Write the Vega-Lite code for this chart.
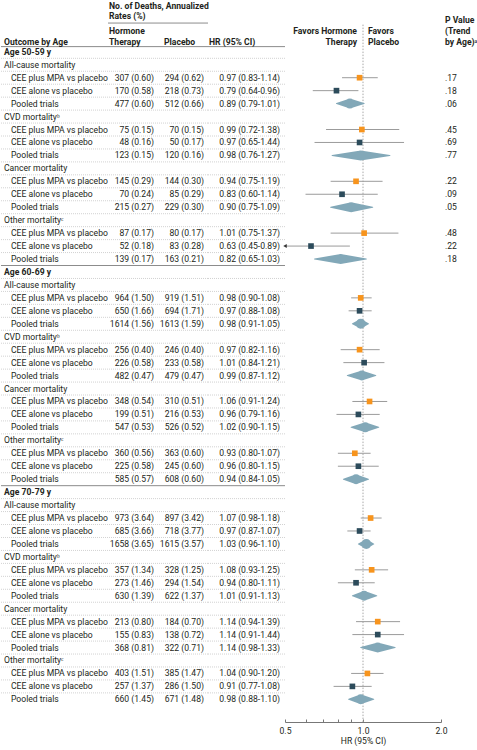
{
"$schema": "https://vega.github.io/schema/vega-lite/v6.json",
"padding": 0,
"spacing": 0,
"bounds": "flush",
"config": {"font": "Roboto", "view": {"stroke": null}, "text": {"fontSize": 8.6, "color": "#231f20"}},
"datasets": {"rows": [
{"row":0,"label":"Age 50-59 y","level":"age"},
{"row":1,"label":"All-cause mortality","level":"cat"},
{"row":2,"label":"CEE plus MPA vs placebo","level":"sub","type":"MPA","ht":"307 (0.60)","pl":"294 (0.62)","hrci":"0.97 (0.83-1.14)","hr":0.97,"lo":0.83,"hi":1.14,"p":".17"},
{"row":3,"label":"CEE alone vs placebo","level":"sub","type":"alone","ht":"170 (0.58)","pl":"218 (0.73)","hrci":"0.79 (0.64-0.96)","hr":0.79,"lo":0.64,"hi":0.96,"p":".18"},
{"row":4,"label":"Pooled trials","level":"sub","type":"pooled","ht":"477 (0.60)","pl":"512 (0.66)","hrci":"0.89 (0.79-1.01)","hr":0.89,"lo":0.79,"hi":1.01,"p":".06"},
{"row":5,"label":"CVD mortalityᵇ","level":"cat"},
{"row":6,"label":"CEE plus MPA vs placebo","level":"sub","type":"MPA","ht":"75 (0.15)","pl":"70 (0.15)","hrci":"0.99 (0.72-1.38)","hr":0.99,"lo":0.72,"hi":1.38,"p":".45"},
{"row":7,"label":"CEE alone vs placebo","level":"sub","type":"alone","ht":"48 (0.16)","pl":"50 (0.17)","hrci":"0.97 (0.65-1.44)","hr":0.97,"lo":0.65,"hi":1.44,"p":".69"},
{"row":8,"label":"Pooled trials","level":"sub","type":"pooled","ht":"123 (0.15)","pl":"120 (0.16)","hrci":"0.98 (0.76-1.27)","hr":0.98,"lo":0.76,"hi":1.27,"p":".77"},
{"row":9,"label":"Cancer mortality","level":"cat"},
{"row":10,"label":"CEE plus MPA vs placebo","level":"sub","type":"MPA","ht":"145 (0.29)","pl":"144 (0.30)","hrci":"0.94 (0.75-1.19)","hr":0.94,"lo":0.75,"hi":1.19,"p":".22"},
{"row":11,"label":"CEE alone vs placebo","level":"sub","type":"alone","ht":"70 (0.24)","pl":"85 (0.29)","hrci":"0.83 (0.60-1.14)","hr":0.83,"lo":0.60,"hi":1.14,"p":".09"},
{"row":12,"label":"Pooled trials","level":"sub","type":"pooled","ht":"215 (0.27)","pl":"229 (0.30)","hrci":"0.90 (0.75-1.09)","hr":0.90,"lo":0.75,"hi":1.09,"p":".05"},
{"row":13,"label":"Other mortalityᶜ","level":"cat"},
{"row":14,"label":"CEE plus MPA vs placebo","level":"sub","type":"MPA","ht":"87 (0.17)","pl":"80 (0.17)","hrci":"1.01 (0.75-1.37)","hr":1.01,"lo":0.75,"hi":1.37,"p":".48"},
{"row":15,"label":"CEE alone vs placebo","level":"sub","type":"alone","ht":"52 (0.18)","pl":"83 (0.28)","hrci":"0.63 (0.45-0.89)","hr":0.63,"lo":0.45,"hi":0.89,"p":".22"},
{"row":16,"label":"Pooled trials","level":"sub","type":"pooled","ht":"139 (0.17)","pl":"163 (0.21)","hrci":"0.82 (0.65-1.03)","hr":0.82,"lo":0.65,"hi":1.03,"p":".18"},
{"row":17,"label":"Age 60-69 y","level":"age"},
{"row":18,"label":"All-cause mortality","level":"cat"},
{"row":19,"label":"CEE plus MPA vs placebo","level":"sub","type":"MPA","ht":"964 (1.50)","pl":"919 (1.51)","hrci":"0.98 (0.90-1.08)","hr":0.98,"lo":0.90,"hi":1.08},
{"row":20,"label":"CEE alone vs placebo","level":"sub","type":"alone","ht":"650 (1.66)","pl":"694 (1.71)","hrci":"0.97 (0.88-1.08)","hr":0.97,"lo":0.88,"hi":1.08},
{"row":21,"label":"Pooled trials","level":"sub","type":"pooled","ht":"1614 (1.56)","pl":"1613 (1.59)","hrci":"0.98 (0.91-1.05)","hr":0.98,"lo":0.91,"hi":1.05},
{"row":22,"label":"CVD mortalityᵇ","level":"cat"},
{"row":23,"label":"CEE plus MPA vs placebo","level":"sub","type":"MPA","ht":"256 (0.40)","pl":"246 (0.40)","hrci":"0.97 (0.82-1.16)","hr":0.97,"lo":0.82,"hi":1.16},
{"row":24,"label":"CEE alone vs placebo","level":"sub","type":"alone","ht":"226 (0.58)","pl":"233 (0.58)","hrci":"1.01 (0.84-1.21)","hr":1.01,"lo":0.84,"hi":1.21},
{"row":25,"label":"Pooled trials","level":"sub","type":"pooled","ht":"482 (0.47)","pl":"479 (0.47)","hrci":"0.99 (0.87-1.12)","hr":0.99,"lo":0.87,"hi":1.12},
{"row":26,"label":"Cancer mortality","level":"cat"},
{"row":27,"label":"CEE plus MPA vs placebo","level":"sub","type":"MPA","ht":"348 (0.54)","pl":"310 (0.51)","hrci":"1.06 (0.91-1.24)","hr":1.06,"lo":0.91,"hi":1.24},
{"row":28,"label":"CEE alone vs placebo","level":"sub","type":"alone","ht":"199 (0.51)","pl":"216 (0.53)","hrci":"0.96 (0.79-1.16)","hr":0.96,"lo":0.79,"hi":1.16},
{"row":29,"label":"Pooled trials","level":"sub","type":"pooled","ht":"547 (0.53)","pl":"526 (0.52)","hrci":"1.02 (0.90-1.15)","hr":1.02,"lo":0.90,"hi":1.15},
{"row":30,"label":"Other mortalityᶜ","level":"cat"},
{"row":31,"label":"CEE plus MPA vs placebo","level":"sub","type":"MPA","ht":"360 (0.56)","pl":"363 (0.60)","hrci":"0.93 (0.80-1.07)","hr":0.93,"lo":0.80,"hi":1.07},
{"row":32,"label":"CEE alone vs placebo","level":"sub","type":"alone","ht":"225 (0.58)","pl":"245 (0.60)","hrci":"0.96 (0.80-1.15)","hr":0.96,"lo":0.80,"hi":1.15},
{"row":33,"label":"Pooled trials","level":"sub","type":"pooled","ht":"585 (0.57)","pl":"608 (0.60)","hrci":"0.94 (0.84-1.05)","hr":0.94,"lo":0.84,"hi":1.05},
{"row":34,"label":"Age 70-79 y","level":"age"},
{"row":35,"label":"All-cause mortality","level":"cat"},
{"row":36,"label":"CEE plus MPA vs placebo","level":"sub","type":"MPA","ht":"973 (3.64)","pl":"897 (3.42)","hrci":"1.07 (0.98-1.18)","hr":1.07,"lo":0.98,"hi":1.18},
{"row":37,"label":"CEE alone vs placebo","level":"sub","type":"alone","ht":"685 (3.66)","pl":"718 (3.77)","hrci":"0.97 (0.87-1.07)","hr":0.97,"lo":0.87,"hi":1.07},
{"row":38,"label":"Pooled trials","level":"sub","type":"pooled","ht":"1658 (3.65)","pl":"1615 (3.57)","hrci":"1.03 (0.96-1.10)","hr":1.03,"lo":0.96,"hi":1.10},
{"row":39,"label":"CVD mortalityᵇ","level":"cat"},
{"row":40,"label":"CEE plus MPA vs placebo","level":"sub","type":"MPA","ht":"357 (1.34)","pl":"328 (1.25)","hrci":"1.08 (0.93-1.25)","hr":1.08,"lo":0.93,"hi":1.25},
{"row":41,"label":"CEE alone vs placebo","level":"sub","type":"alone","ht":"273 (1.46)","pl":"294 (1.54)","hrci":"0.94 (0.80-1.11)","hr":0.94,"lo":0.80,"hi":1.11},
{"row":42,"label":"Pooled trials","level":"sub","type":"pooled","ht":"630 (1.39)","pl":"622 (1.37)","hrci":"1.01 (0.91-1.13)","hr":1.01,"lo":0.91,"hi":1.13},
{"row":43,"label":"Cancer mortality","level":"cat"},
{"row":44,"label":"CEE plus MPA vs placebo","level":"sub","type":"MPA","ht":"213 (0.80)","pl":"184 (0.70)","hrci":"1.14 (0.94-1.39)","hr":1.14,"lo":0.94,"hi":1.39},
{"row":45,"label":"CEE alone vs placebo","level":"sub","type":"alone","ht":"155 (0.83)","pl":"138 (0.72)","hrci":"1.14 (0.91-1.44)","hr":1.14,"lo":0.91,"hi":1.44},
{"row":46,"label":"Pooled trials","level":"sub","type":"pooled","ht":"368 (0.81)","pl":"322 (0.71)","hrci":"1.14 (0.98-1.33)","hr":1.14,"lo":0.98,"hi":1.33},
{"row":47,"label":"Other mortalityᶜ","level":"cat"},
{"row":48,"label":"CEE plus MPA vs placebo","level":"sub","type":"MPA","ht":"403 (1.51)","pl":"385 (1.47)","hrci":"1.04 (0.90-1.20)","hr":1.04,"lo":0.90,"hi":1.20},
{"row":49,"label":"CEE alone vs placebo","level":"sub","type":"alone","ht":"257 (1.37)","pl":"286 (1.50)","hrci":"0.91 (0.77-1.08)","hr":0.91,"lo":0.77,"hi":1.08},
{"row":50,"label":"Pooled trials","level":"sub","type":"pooled","ht":"660 (1.45)","pl":"671 (1.48)","hrci":"0.98 (0.88-1.10)","hr":0.98,"lo":0.88,"hi":1.10}
]},
"data": {"name": "rows"},
"hconcat": [
{
 "width": 107, "height": 722,
 "layer": [
  {"transform":[{"filter":"datum.row < 50 && datum.row != 16 && datum.row != 33"}],"mark":{"type":"rule","yOffset":6.5,"color":"#d2d2d2","strokeDash":[1,1]},"encoding":{"y":{"field":"row","type":"quantitative","scale":{"domain":[-4,51.75],"reverse":true,"nice":false,"zero":false},"axis":null}}},
  {"transform":[{"filter":"datum.row == 16 || datum.row == 33"}],"mark":{"type":"rule","yOffset":6.5,"color":"#8c8c8c"},"encoding":{"y":{"field":"row","type":"quantitative","scale":{"domain":[-4,51.75],"reverse":true,"nice":false,"zero":false},"axis":null}}},
  {"data":{"values":[{}]},"mark":{"type":"rule","color":"#8c8c8c"},"encoding":{"y":{"datum":-0.4,"type":"quantitative","scale":{"domain":[-4,51.75],"reverse":true,"nice":false,"zero":false},"axis":null}}},
  {"data":{"values":[{}]},"mark":{"type":"text","align":"left","baseline":"middle","dx":3,"fontWeight":"bold"},"encoding":{"x":{"datum":0,"type":"quantitative","scale":{"domain":[0,1],"nice":false,"zero":false},"axis":null},"y":{"datum":-0.75,"type":"quantitative","scale":{"domain":[-4,51.75],"reverse":true,"nice":false,"zero":false},"axis":null},"text":{"value":"Outcome by Age"}}},
  {"transform":[{"filter":"datum.level == 'age'"}],"mark":{"type":"text","align":"left","baseline":"middle","dx":3,"fontWeight":"bold"},"encoding":{"x":{"datum":0,"type":"quantitative","scale":{"domain":[0,1],"nice":false,"zero":false},"axis":null},"y":{"field":"row","type":"quantitative","scale":{"domain":[-4,51.75],"reverse":true,"nice":false,"zero":false},"axis":null},"text":{"field":"label"}}},
  {"transform":[{"filter":"datum.level == 'cat'"}],"mark":{"type":"text","align":"left","baseline":"middle","dx":3},"encoding":{"x":{"datum":0,"type":"quantitative","scale":{"domain":[0,1],"nice":false,"zero":false},"axis":null},"y":{"field":"row","type":"quantitative","scale":{"domain":[-4,51.75],"reverse":true,"nice":false,"zero":false},"axis":null},"text":{"field":"label"}}},
  {"transform":[{"filter":"datum.level == 'sub'"}],"mark":{"type":"text","align":"left","baseline":"middle","dx":10},"encoding":{"x":{"datum":0,"type":"quantitative","scale":{"domain":[0,1],"nice":false,"zero":false},"axis":null},"y":{"field":"row","type":"quantitative","scale":{"domain":[-4,51.75],"reverse":true,"nice":false,"zero":false},"axis":null},"text":{"field":"label"}}}
 ]
},
{
 "width": 50, "height": 722,
 "layer": [
  {"transform":[{"filter":"datum.row < 50 && datum.row != 16 && datum.row != 33"}],"mark":{"type":"rule","yOffset":6.5,"color":"#d2d2d2","strokeDash":[1,1]},"encoding":{"y":{"field":"row","type":"quantitative","scale":{"domain":[-4,51.75],"reverse":true,"nice":false,"zero":false},"axis":null}}},
  {"transform":[{"filter":"datum.row == 16 || datum.row == 33"}],"mark":{"type":"rule","yOffset":6.5,"color":"#8c8c8c"},"encoding":{"y":{"field":"row","type":"quantitative","scale":{"domain":[-4,51.75],"reverse":true,"nice":false,"zero":false},"axis":null}}},
  {"data":{"values":[{}]},"mark":{"type":"rule","color":"#8c8c8c"},"encoding":{"y":{"datum":-0.4,"type":"quantitative","scale":{"domain":[-4,51.75],"reverse":true,"nice":false,"zero":false},"axis":null}}},
  {"data":{"values":[{}]},"mark":{"type":"rule","color":"#8c8c8c"},"encoding":{"y":{"datum":-2.22,"type":"quantitative","scale":{"domain":[-4,51.75],"reverse":true,"nice":false,"zero":false},"axis":null}}},
  {"data":{"values":[{}]},"mark":{"type":"text","align":"left","baseline":"middle","dx":1,"fontWeight":"bold","lineHeight":10},"encoding":{"x":{"datum":0,"type":"quantitative","scale":{"domain":[0,1],"nice":false,"zero":false},"axis":null},"y":{"datum":-3.54,"type":"quantitative","scale":{"domain":[-4,51.75],"reverse":true,"nice":false,"zero":false},"axis":null},"text":{"value":["No. of Deaths, Annualized","Rates (%)"]}}},
  {"data":{"values":[{}]},"mark":{"type":"text","align":"left","baseline":"middle","dx":1,"fontWeight":"bold","lineHeight":11},"encoding":{"x":{"datum":0,"type":"quantitative","scale":{"domain":[0,1],"nice":false,"zero":false},"axis":null},"y":{"datum":-1.6,"type":"quantitative","scale":{"domain":[-4,51.75],"reverse":true,"nice":false,"zero":false},"axis":null},"text":{"value":["Hormone","Therapy"]}}},
  {"transform":[{"filter":"datum.level == 'sub'"}],"mark":{"type":"text","align":"right","baseline":"middle","dx":-4},"encoding":{"x":{"datum":1,"type":"quantitative","scale":{"domain":[0,1],"nice":false,"zero":false},"axis":null},"y":{"field":"row","type":"quantitative","scale":{"domain":[-4,51.75],"reverse":true,"nice":false,"zero":false},"axis":null},"text":{"field":"ht"}}}
 ]
},
{
 "width": 50, "height": 722,
 "layer": [
  {"transform":[{"filter":"datum.row < 50 && datum.row != 16 && datum.row != 33"}],"mark":{"type":"rule","yOffset":6.5,"color":"#d2d2d2","strokeDash":[1,1]},"encoding":{"y":{"field":"row","type":"quantitative","scale":{"domain":[-4,51.75],"reverse":true,"nice":false,"zero":false},"axis":null}}},
  {"transform":[{"filter":"datum.row == 16 || datum.row == 33"}],"mark":{"type":"rule","yOffset":6.5,"color":"#8c8c8c"},"encoding":{"y":{"field":"row","type":"quantitative","scale":{"domain":[-4,51.75],"reverse":true,"nice":false,"zero":false},"axis":null}}},
  {"data":{"values":[{}]},"mark":{"type":"rule","color":"#8c8c8c"},"encoding":{"y":{"datum":-0.4,"type":"quantitative","scale":{"domain":[-4,51.75],"reverse":true,"nice":false,"zero":false},"axis":null}}},
  {"data":{"values":[{}]},"mark":{"type":"rule","color":"#8c8c8c"},"encoding":{"y":{"datum":-2.22,"type":"quantitative","scale":{"domain":[-4,51.75],"reverse":true,"nice":false,"zero":false},"axis":null}}},
  {"data":{"values":[{}]},"mark":{"type":"text","align":"left","baseline":"middle","dx":6,"fontWeight":"bold"},"encoding":{"x":{"datum":0,"type":"quantitative","scale":{"domain":[0,1],"nice":false,"zero":false},"axis":null},"y":{"datum":-0.75,"type":"quantitative","scale":{"domain":[-4,51.75],"reverse":true,"nice":false,"zero":false},"axis":null},"text":{"value":"Placebo"}}},
  {"transform":[{"filter":"datum.level == 'sub'"}],"mark":{"type":"text","align":"right","baseline":"middle","dx":-4},"encoding":{"x":{"datum":1,"type":"quantitative","scale":{"domain":[0,1],"nice":false,"zero":false},"axis":null},"y":{"field":"row","type":"quantitative","scale":{"domain":[-4,51.75],"reverse":true,"nice":false,"zero":false},"axis":null},"text":{"field":"pl"}}}
 ]
},
{
 "width": 77, "height": 722,
 "layer": [
  {"transform":[{"filter":"datum.row < 50 && datum.row != 16 && datum.row != 33"}],"mark":{"type":"rule","yOffset":6.5,"color":"#d2d2d2","strokeDash":[1,1]},"encoding":{"y":{"field":"row","type":"quantitative","scale":{"domain":[-4,51.75],"reverse":true,"nice":false,"zero":false},"axis":null}}},
  {"transform":[{"filter":"datum.row == 16 || datum.row == 33"}],"mark":{"type":"rule","yOffset":6.5,"color":"#8c8c8c"},"encoding":{"y":{"field":"row","type":"quantitative","scale":{"domain":[-4,51.75],"reverse":true,"nice":false,"zero":false},"axis":null}}},
  {"data":{"values":[{}]},"mark":{"type":"rule","color":"#8c8c8c"},"encoding":{"y":{"datum":-0.4,"type":"quantitative","scale":{"domain":[-4,51.75],"reverse":true,"nice":false,"zero":false},"axis":null}}},
  {"data":{"values":[{}]},"mark":{"type":"text","align":"left","baseline":"middle","dx":1,"fontWeight":"bold"},"encoding":{"x":{"datum":0,"type":"quantitative","scale":{"domain":[0,1],"nice":false,"zero":false},"axis":null},"y":{"datum":-0.75,"type":"quantitative","scale":{"domain":[-4,51.75],"reverse":true,"nice":false,"zero":false},"axis":null},"text":{"value":"HR (95% CI)"}}},
  {"transform":[{"filter":"datum.level == 'sub'"}],"mark":{"type":"text","align":"right","baseline":"middle","dx":-5},"encoding":{"x":{"datum":1,"type":"quantitative","scale":{"domain":[0,1],"nice":false,"zero":false},"axis":null},"y":{"field":"row","type":"quantitative","scale":{"domain":[-4,51.75],"reverse":true,"nice":false,"zero":false},"axis":null},"text":{"field":"hrci"}}}
 ]
},
{
 "width": 156, "height": 722,
 "layer": [
  {"data":{"values":[{}]},"mark":{"type":"rule","color":"#a8a8a8","strokeDash":[1.5,1.5]},"encoding":{"x":{"datum":1,"type":"quantitative","scale":{"type":"log","domain":[0.5,2],"clamp":true,"nice":false},"axis":{"values":[0.5,0.6,0.7,0.8,0.9,1,2],"labelExpr":"datum.value == 0.5 || datum.value == 1 || datum.value == 2 ? format(datum.value, '.1f') : ''","title":"HR (95% CI)","grid":false,"tickSize":-3,"labelPadding":7,"domainColor":"#777","tickColor":"#777","labelFontSize":8.6,"titleFontSize":8.6,"titleFontWeight":"normal","titleColor":"#231f20","labelColor":"#231f20","titlePadding":2,"labelFlush":false}},"y":{"datum":-2.1,"type":"quantitative","scale":{"domain":[-4,51.75],"reverse":true,"nice":false,"zero":false},"axis":null},"y2":{"datum":51.75}}},
  {"transform":[{"filter":"datum.level == 'sub' && datum.type != 'pooled'"}],"mark":{"type":"rule","color":"#9b9b9b","strokeWidth":1},"encoding":{"x":{"field":"lo","type":"quantitative","scale":{"type":"log","domain":[0.5,2],"clamp":true,"nice":false}},"x2":{"field":"hi"},"y":{"field":"row","type":"quantitative","scale":{"domain":[-4,51.75],"reverse":true,"nice":false,"zero":false},"axis":null}}},
  {"transform":[{"filter":"datum.level == 'sub' && datum.lo < 0.5"}],"mark":{"type":"point","shape":"triangle-left","filled":true,"opacity":1,"color":"#333333","size":16},"encoding":{"x":{"field":"lo","type":"quantitative","scale":{"type":"log","domain":[0.5,2],"clamp":true,"nice":false}},"y":{"field":"row","type":"quantitative","scale":{"domain":[-4,51.75],"reverse":true,"nice":false,"zero":false},"axis":null}}},
  {"transform":[{"filter":"datum.level == 'sub' && datum.type != 'pooled'"}],"mark":{"type":"point","shape":"square","filled":true,"opacity":1,"size":32},"encoding":{"x":{"field":"hr","type":"quantitative","scale":{"type":"log","domain":[0.5,2],"clamp":true,"nice":false}},"y":{"field":"row","type":"quantitative","scale":{"domain":[-4,51.75],"reverse":true,"nice":false,"zero":false},"axis":null},"color":{"field":"type","type":"nominal","scale":{"domain":["MPA","alone"],"range":["#F7941D","#2C4B5B"]},"legend":null}}},
  {"transform":[{"filter":"datum.type == 'pooled'"},{"fold":["lo","hr","hi"],"as":["key","val"]}],"mark":{"type":"trail","color":"#82A8B8"},"encoding":{"x":{"field":"val","type":"quantitative","scale":{"type":"log","domain":[0.5,2],"clamp":true,"nice":false}},"y":{"field":"row","type":"quantitative","scale":{"domain":[-4,51.75],"reverse":true,"nice":false,"zero":false},"axis":null},"detail":{"field":"row","type":"nominal"},"size":{"field":"key","type":"nominal","scale":{"type":"ordinal","domain":["lo","hr","hi"],"range":[0,10,0]},"legend":null}}},
  {"data":{"values":[{}]},"mark":{"type":"text","align":"right","baseline":"middle","dx":-6,"fontWeight":"bold","lineHeight":11},"encoding":{"x":{"datum":1,"type":"quantitative","scale":{"type":"log","domain":[0.5,2],"clamp":true,"nice":false}},"y":{"datum":-1.6,"type":"quantitative","scale":{"domain":[-4,51.75],"reverse":true,"nice":false,"zero":false},"axis":null},"text":{"value":["Favors Hormone","Therapy"]}}},
  {"data":{"values":[{}]},"mark":{"type":"text","align":"left","baseline":"middle","dx":5,"fontWeight":"bold","lineHeight":11},"encoding":{"x":{"datum":1,"type":"quantitative","scale":{"type":"log","domain":[0.5,2],"clamp":true,"nice":false}},"y":{"datum":-1.6,"type":"quantitative","scale":{"domain":[-4,51.75],"reverse":true,"nice":false,"zero":false},"axis":null},"text":{"value":["Favors","Placebo"]}}}
 ]
},
{
 "width": 37, "height": 722,
 "layer": [
  {"data":{"values":[{}]},"mark":{"type":"text","align":"left","baseline":"middle","dx":4,"fontWeight":"bold","lineHeight":11},"encoding":{"x":{"datum":0,"type":"quantitative","scale":{"domain":[0,1],"nice":false,"zero":false},"axis":null},"y":{"datum":-2.46,"type":"quantitative","scale":{"domain":[-4,51.75],"reverse":true,"nice":false,"zero":false},"axis":null},"text":{"value":["P Value","(Trend","by Age)ᵃ"]}}},
  {"transform":[{"filter":"isValid(datum.p)"}],"mark":{"type":"text","align":"left","baseline":"middle","dx":4},"encoding":{"x":{"datum":0,"type":"quantitative","scale":{"domain":[0,1],"nice":false,"zero":false},"axis":null},"y":{"field":"row","type":"quantitative","scale":{"domain":[-4,51.75],"reverse":true,"nice":false,"zero":false},"axis":null},"text":{"field":"p"}}}
 ]
}
]
}
